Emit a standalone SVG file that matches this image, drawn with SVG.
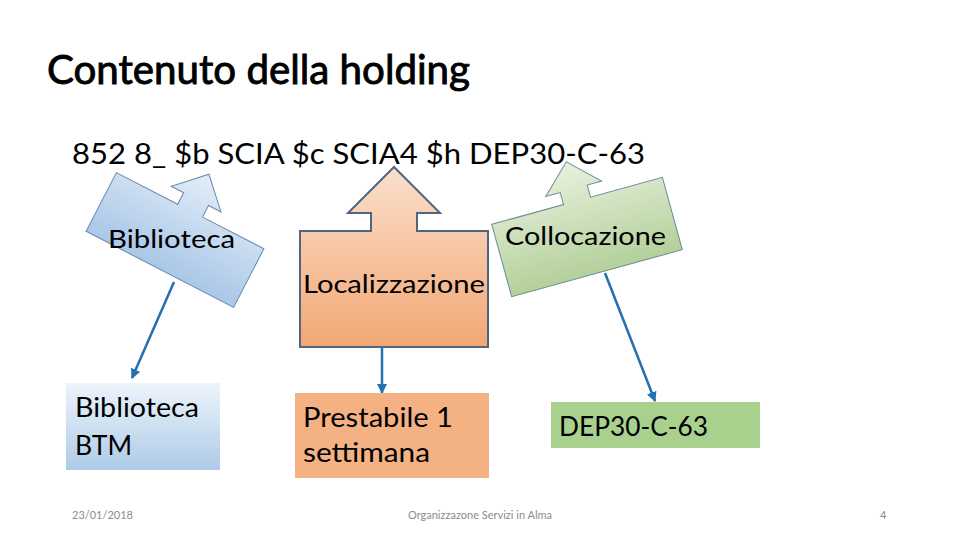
<svg xmlns="http://www.w3.org/2000/svg" width="960" height="540" viewBox="0 0 960 540">
<defs>
<linearGradient id="gBlue" x1="0" y1="0" x2="0" y2="1">
<stop offset="0" stop-color="#e3edf8"/><stop offset="1" stop-color="#a9c7e7"/>
</linearGradient>
<linearGradient id="gOrange" x1="0" y1="0" x2="0" y2="1">
<stop offset="0" stop-color="#fadfcc"/><stop offset="1" stop-color="#f2a775"/>
</linearGradient>
<linearGradient id="gGreen" x1="0" y1="0" x2="0" y2="1">
<stop offset="0" stop-color="#e9f1df"/><stop offset="1" stop-color="#b3d09a"/>
</linearGradient>
<linearGradient id="gBlueBox" x1="0" y1="0" x2="0" y2="1">
<stop offset="0" stop-color="#eef4fb"/><stop offset="1" stop-color="#adcbe8"/>
</linearGradient>
<marker id="arr" viewBox="0 0 10 10" refX="9" refY="5" markerWidth="4" markerHeight="4" orient="auto" markerUnits="strokeWidth">
<path d="M0,0 L10,5 L0,10 Z" fill="#2470b0"/>
</marker>
<style>
text{font-family:Lato,"Open Sans","Liberation Sans",sans-serif;fill:#000}
.t24{font-size:25px}
.t26{font-size:27px}
.foot{font-size:11px;fill:#8c8c8c}
.conn{stroke:#2470b0;stroke-width:2.5;fill:none;marker-end:url(#arr)}
</style>
</defs>
<rect width="960" height="540" fill="#fff"/>
<text x="47" y="84" font-size="40" stroke="#000" stroke-width="0.9" textLength="423" lengthAdjust="spacingAndGlyphs">Contenuto della holding</text>
<text x="72" y="164" font-size="28" textLength="573" lengthAdjust="spacingAndGlyphs">852 8_ $b SCIA $c SCIA4 $h DEP30-C-63</text>

<g id="connectors">
<line class="conn" x1="174" y1="282" x2="132" y2="378"/>
<line class="conn" x1="382" y1="345" x2="382" y2="393"/>
<line class="conn" x1="605" y1="273" x2="655" y2="401"/>
</g>

<g id="biblioteca-callout">
<path transform="translate(175,240) rotate(27.3)" d="M-83,-33 L-14,-33 L-14,-46 L-28,-46 L0,-74 L28,-46 L14,-46 L14,-33 L83,-33 L83,33 L-83,33 Z" fill="url(#gBlue)" stroke="#6a88a8" stroke-width="1"/>
<text class="t24" x="108" y="248" textLength="127" lengthAdjust="spacingAndGlyphs">Biblioteca</text>
</g>

<g id="localizzazione-callout">
<path d="M300,231 L371,231 L371,213 L348,213 L394,167 L440,213 L417,213 L417,231 L488,231 L488,347 L300,347 Z" fill="url(#gOrange)" stroke="#4f6580" stroke-width="2"/>
<text class="t24" x="303" y="293" textLength="182" lengthAdjust="spacingAndGlyphs">Localizzazione</text>
</g>

<g id="collocazione-callout">
<path transform="translate(587,237) rotate(-15.4)" d="M-88.5,-37.5 L-14,-37.5 L-14,-50 L-29,-50 L0,-78 L29,-50 L14,-50 L14,-37.5 L88.5,-37.5 L88.5,37.5 L-88.5,37.5 Z" fill="url(#gGreen)" stroke="#6d8a94" stroke-width="1"/>
<text class="t24" x="505" y="245" textLength="161" lengthAdjust="spacingAndGlyphs">Collocazione</text>
</g>

<g id="box-biblioteca-btm">
<rect x="66" y="383" width="154" height="87" fill="url(#gBlueBox)"/>
<text class="t26" x="75" y="417" textLength="124" lengthAdjust="spacingAndGlyphs">Biblioteca</text>
<text class="t26" x="75" y="455" textLength="57" lengthAdjust="spacingAndGlyphs">BTM</text>
</g>

<g id="box-prestabile">
<rect x="295" y="393" width="194" height="85" fill="#f4b183"/>
<text class="t26" x="303" y="427" textLength="150" lengthAdjust="spacingAndGlyphs">Prestabile 1</text>
<text class="t26" x="303" y="462" textLength="127" lengthAdjust="spacingAndGlyphs">settimana</text>
</g>

<g id="box-dep30">
<rect x="551" y="402" width="209" height="46" fill="#a9d18e"/>
<text class="t26" x="559" y="436" textLength="149" lengthAdjust="spacingAndGlyphs">DEP30-C-63</text>
</g>

<text class="foot" x="72" y="519">23/01/2018</text>
<text class="foot" x="480" y="519" text-anchor="middle">Organizzazone Servizi in Alma</text>
<text class="foot" x="880" y="519">4</text>
</svg>
